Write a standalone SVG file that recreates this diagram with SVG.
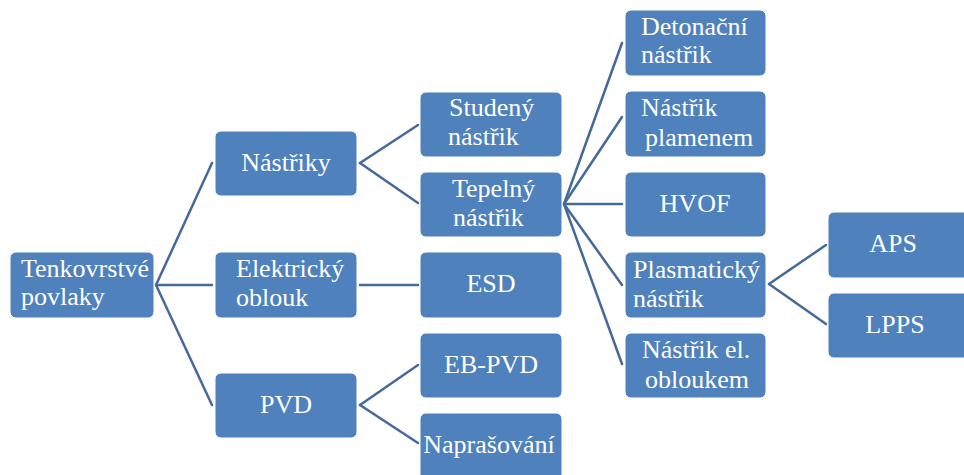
<svg xmlns="http://www.w3.org/2000/svg" width="964" height="475" viewBox="0 0 964 475">
<style>
.box{fill:#4F81BD;stroke:#ffffff;stroke-width:1}
.t{font-family:'Liberation Serif','Times New Roman',Times,'DejaVu Serif',serif;font-size:26px;fill:#ffffff}
.c{text-anchor:middle}
.conn line{stroke:#45699B;stroke-width:2.5;stroke-linecap:round}
</style>
<rect width="964" height="475" fill="#ffffff"/>
<g id="connectors" class="conn">
<line x1="156" y1="285" x2="212" y2="163"/>
<line x1="156" y1="285" x2="212" y2="285"/>
<line x1="156" y1="285" x2="212" y2="405"/>
<line x1="360" y1="163" x2="418" y2="125"/>
<line x1="360" y1="163" x2="418" y2="203"/>
<line x1="360" y1="285" x2="418" y2="285"/>
<line x1="360" y1="405" x2="418" y2="365"/>
<line x1="360" y1="405" x2="418" y2="443"/>
<line x1="564" y1="204" x2="622" y2="43"/>
<line x1="564" y1="204" x2="622" y2="117"/>
<line x1="564" y1="204" x2="622" y2="204"/>
<line x1="564" y1="204" x2="622" y2="285"/>
<line x1="564" y1="204" x2="622" y2="364"/>
<line x1="769" y1="284" x2="826" y2="245"/>
<line x1="769" y1="284" x2="826" y2="324"/>
</g>
<g id="n-tenkovrstve">
<rect class="box" x="10" y="252" width="144" height="66" rx="6"/>
<text class="t" x="21" y="277">Tenkovrstvé</text>
<text class="t" x="21" y="305">povlaky</text>
</g>
<g id="n-nastriky">
<rect class="box" x="215" y="131" width="142" height="65" rx="6"/>
<text class="t c" x="286" y="171">Nástřiky</text>
</g>
<g id="n-elektricky">
<rect class="box" x="215" y="252" width="142" height="66" rx="6"/>
<text class="t" x="236" y="277">Elektrický</text>
<text class="t" x="236" y="306">oblouk</text>
</g>
<g id="n-pvd">
<rect class="box" x="215" y="373" width="142" height="65" rx="6"/>
<text class="t c" x="286" y="413">PVD</text>
</g>
<g id="n-studeny">
<rect class="box" x="420" y="92" width="142" height="65" rx="6"/>
<text class="t" x="449" y="116">Studený</text>
<text class="t" x="448" y="145">nástřik</text>
</g>
<g id="n-tepelny">
<rect class="box" x="420" y="172" width="142" height="65" rx="6"/>
<text class="t" x="452" y="197">Tepelný</text>
<text class="t" x="453" y="226">nástřik</text>
</g>
<g id="n-esd">
<rect class="box" x="420" y="252" width="142" height="66" rx="6"/>
<text class="t c" x="491" y="292">ESD</text>
</g>
<g id="n-ebpvd">
<rect class="box" x="420" y="333" width="142" height="65" rx="6"/>
<text class="t c" x="491" y="373">EB-PVD</text>
</g>
<g id="n-naprasovani">
<rect class="box" x="420" y="413" width="142" height="68" rx="6"/>
<text class="t c" x="489" y="453">Naprašování</text>
</g>
<g id="n-detonacni">
<rect class="box" x="625" y="10" width="141" height="66" rx="6"/>
<text class="t" x="641" y="35">Detonační</text>
<text class="t" x="641" y="63">nástřik</text>
</g>
<g id="n-plamenem">
<rect class="box" x="625" y="91" width="141" height="66" rx="6"/>
<text class="t" x="641" y="116">Nástřik</text>
<text class="t" x="645" y="146">plamenem</text>
</g>
<g id="n-hvof">
<rect class="box" x="625" y="172" width="141" height="65" rx="6"/>
<text class="t c" x="695" y="212">HVOF</text>
</g>
<g id="n-plasmaticky">
<rect class="box" x="625" y="252" width="141" height="66" rx="6"/>
<text class="t" x="633" y="278">Plasmatický</text>
<text class="t" x="633" y="307">nástřik</text>
</g>
<g id="n-elobloukem">
<rect class="box" x="625" y="333" width="141" height="65" rx="6"/>
<text class="t" x="642" y="358">Nástřik el.</text>
<text class="t" x="645" y="388">obloukem</text>
</g>
<g id="n-aps">
<rect class="box" x="828" y="212" width="142" height="66" rx="6"/>
<text class="t c" x="893" y="252">APS</text>
</g>
<g id="n-lpps">
<rect class="box" x="828" y="293" width="142" height="65" rx="6"/>
<text class="t c" x="895" y="333">LPPS</text>
</g>
</svg>
